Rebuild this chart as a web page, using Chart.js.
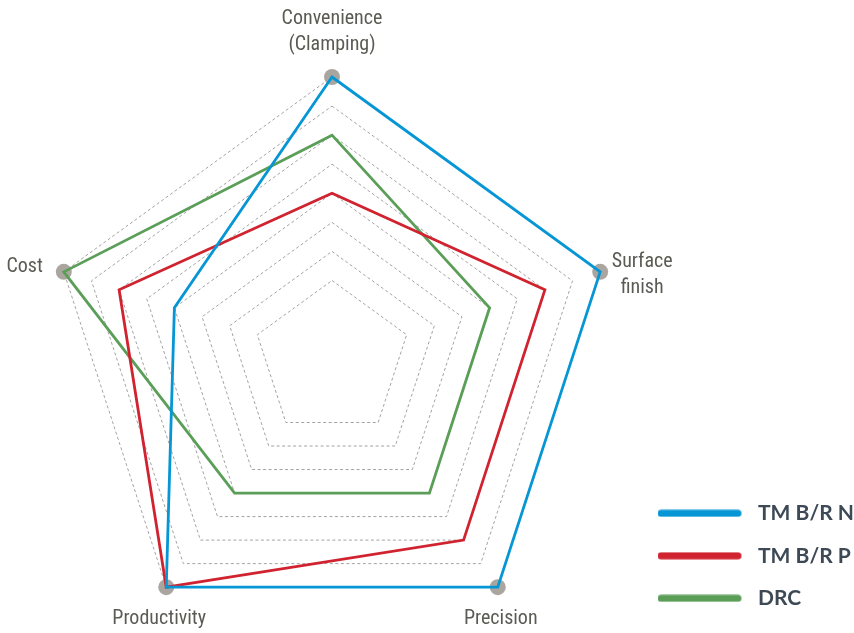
<!DOCTYPE html>
<html>
<head>
<meta charset="utf-8">
<script src="https://cdn.jsdelivr.net/npm/chart.js@4.4.1/dist/chart.umd.min.js"></script>
<style>
html,body{margin:0;padding:0;background:#ffffff;overflow:hidden;}
#clip{position:relative;width:854px;height:633px;overflow:hidden;}
#wrap{position:absolute;left:0;top:0;width:864px;height:641px;}
</style>
</head>
<body>
<div id="clip"><div id="wrap"><canvas id="c"></canvas></div></div>
<script>
// ---- data ----
const categories = [['Convenience', '(Clamping)'], ['Surface', 'finish'], 'Precision', 'Productivity', 'Cost'];
const seriesNames = ['TM B/R N', 'TM B/R P', 'DRC'];
const tmBRN = [10, 10, 10, 10, 6];
const tmBRP = [6, 8, 8, 10, 8];
const drc = [8, 6, 6, 6, 10];
const axisMarkers = [10, 10, 10, 10, 10];
const ringValues = [3, 4, 5, 6, 7, 8, 9, 10];
const scaleMin = 0.3;
const scaleMax = 10;

// ---- styles ----
const seriesColors = ['#0796d5', '#d0222f', '#5a9e58'];
const markerColor = '#aaa69f';
const labelFont = '20px "Roboto Condensed", "Arial Narrow", Roboto, sans-serif';
const labelColor = '#5b5b54';
const legendFontFamily = 'Lato, "Open Sans", sans-serif';
const legendFontSize = 21;
const legendPad = 21.5;
const legendBoxW = 90;
const canvasW = 864;

// label placement relative to each axis end
const labelLayout = [
  {dx: 0, dy: -53, align: 'center', lh: 26},
  {dx: 42, dy: -5, align: 'center', lh: 26},
  {dx: 3, dy: 37, align: 'center', lh: 26},
  {dx: -7, dy: 37, align: 'center', lh: 26},
  {dx: -21, dy: 0, align: 'right', lh: 26}
];

function lineSwatch(color) {
  const c = document.createElement('canvas');
  c.width = legendBoxW; c.height = 8;
  const x = c.getContext('2d');
  x.strokeStyle = color; x.lineWidth = 7; x.lineCap = 'round';
  x.beginPath(); x.moveTo(3.5, 4); x.lineTo(80.5, 4); x.stroke();
  return c;
}
const swatches = seriesColors.map(lineSwatch);

// measure legend width to place the chart area
const mctx = document.createElement('canvas').getContext('2d');
mctx.font = 'bold ' + legendFontSize + 'px ' + legendFontFamily;
const maxTextW = Math.max(...seriesNames.map(n => mctx.measureText(n).width));
const legendWidth = legendPad + legendBoxW + legendFontSize / 2 + maxTextW + 10;
const chartRight = 636;
const padRight = Math.max(0, canvasW - chartRight - legendWidth);

const axisLabelPlugin = {
  id: 'axisLabels',
  afterDraw(chart) {
    const r = chart.scales.r;
    const ctx = chart.ctx;
    ctx.save();
    ctx.font = labelFont;
    ctx.fillStyle = labelColor;
    ctx.textBaseline = 'alphabetic';
    categories.forEach((lab, i) => {
      const p = r.getPointPositionForValue(i, r.max);
      const L = labelLayout[i];
      const lines = Array.isArray(lab) ? lab : [lab];
      ctx.textAlign = L.align;
      lines.forEach((t, k) => ctx.fillText(t, p.x + L.dx, p.y + L.dy + k * L.lh));
    });
    ctx.restore();
  }
};

new Chart(document.getElementById('c'), {
  type: 'radar',
  data: {
    labels: categories,
    datasets: [
      {label: seriesNames[0], data: tmBRN, borderColor: seriesColors[0], order: 1},
      {label: seriesNames[1], data: tmBRP, borderColor: seriesColors[1], order: 2},
      {label: seriesNames[2], data: drc, borderColor: seriesColors[2], order: 3},
      {label: 'axis', data: axisMarkers, showLine: false, pointRadius: 8, pointHoverRadius: 8,
       pointBackgroundColor: markerColor, pointBorderWidth: 0, borderColor: markerColor, order: 10}
    ].map(d => Object.assign({
      fill: false, backgroundColor: 'rgba(0,0,0,0)', borderWidth: 2.8, pointRadius: 0, tension: 0
    }, d))
  },
  options: {
    responsive: true,
    maintainAspectRatio: false,
    animation: false,
    layout: {padding: {left: 28, top: 77, bottom: 0, right: padRight}},
    scales: {
      r: {
        min: scaleMin,
        max: scaleMax,
        afterBuildTicks: (scale) => { scale.ticks = [scaleMin, ...ringValues].map(v => ({value: v})); },
        ticks: {display: false},
        angleLines: {display: false},
        pointLabels: {display: false},
        grid: {color: '#a3a3a3', lineWidth: 1},
        border: {dash: [3, 2.5]}
      }
    },
    plugins: {
      tooltip: {enabled: false},
      legend: {
        position: 'right',
        align: 'start',
        title: {display: true, text: ' ', font: {size: 10}, padding: {top: 392.3, bottom: 0}},
        labels: {
          usePointStyle: true,
          pointStyleWidth: legendBoxW,
          padding: legendPad,
          color: '#3d4a56',
          font: {family: legendFontFamily, size: legendFontSize, weight: 'bold'},
          generateLabels(chart) {
            const items = Chart.defaults.plugins.legend.labels.generateLabels(chart);
            return items.filter(it => it.datasetIndex < 3).map(it => Object.assign(it, {
              pointStyle: swatches[it.datasetIndex], fontColor: '#3d4a56', lineWidth: 0
            }));
          }
        }
      }
    }
  },
  plugins: [axisLabelPlugin]
});
</script>
</body>
</html>
